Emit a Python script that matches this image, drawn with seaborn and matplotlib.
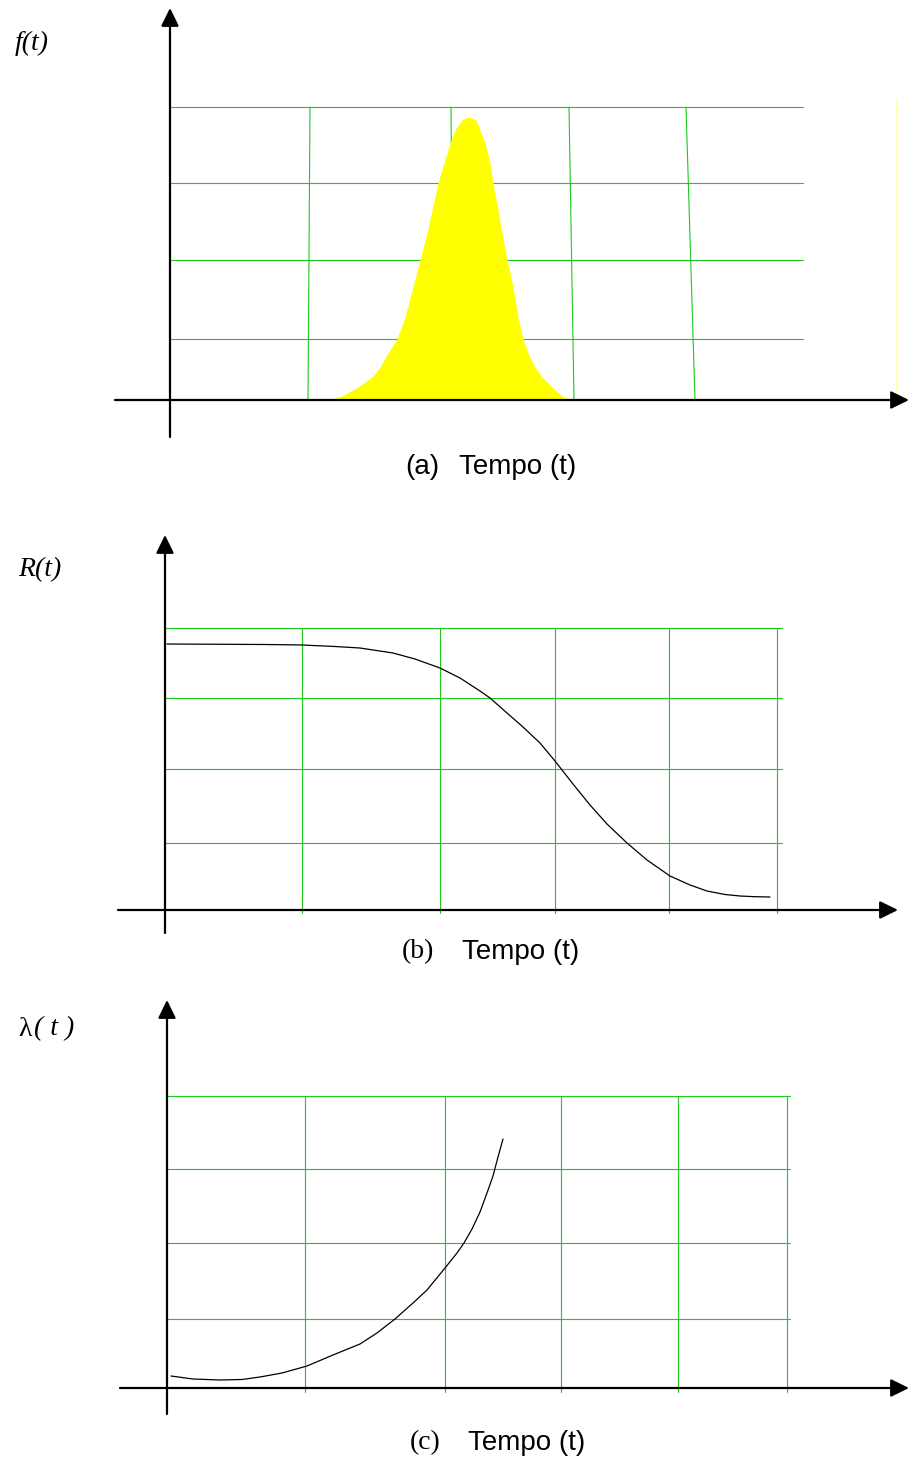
import matplotlib
matplotlib.use("Agg")
import matplotlib.pyplot as plt
import seaborn as sns

sns.set_style("white")
plt.rcParams["text.color"] = "black"

# ---- data (t in time units, values in curve units) ----
# (a) probability density f(t)
t_f = [1.55, 1.70, 1.88, 2.02, 2.10, 2.18, 2.27, 2.35, 2.43, 2.50, 2.57, 2.62,
       2.68, 2.74, 2.80, 2.85, 2.92, 2.95, 2.98, 3.02, 3.06, 3.10, 3.15, 3.20,
       3.23, 3.28, 3.32, 3.37, 3.43, 3.48, 3.53, 3.58, 3.65, 3.72, 3.82, 3.93,
       4.05]
f_vals = [0.00, 0.03, 0.13, 0.23, 0.33, 0.47, 0.61, 0.83, 1.13, 1.40, 1.67, 1.90,
          2.17, 2.37, 2.57, 2.70, 2.80, 2.82, 2.83, 2.82, 2.80, 2.70, 2.57, 2.37,
          2.17, 1.90, 1.67, 1.40, 1.13, 0.83, 0.61, 0.47, 0.33, 0.23, 0.13, 0.03,
          0.00]

# (b) reliability R(t)
t_r = [0.02, 1.00, 1.37, 1.70, 1.95, 2.28, 2.50, 2.75, 2.95, 3.15, 3.25, 3.42,
       3.58, 3.75, 3.90, 4.08, 4.25, 4.42, 4.62, 4.82, 5.05, 5.25, 5.42, 5.60,
       5.75, 5.90, 6.05]
r_vals = [2.66, 2.655, 2.65, 2.635, 2.62, 2.57, 2.51, 2.42, 2.32, 2.19, 2.12, 1.97,
          1.83, 1.67, 1.49, 1.26, 1.05, 0.86, 0.67, 0.50, 0.34, 0.25, 0.19, 0.155,
          0.14, 0.133, 0.13]

# (c) hazard rate lambda(t)
t_h = [0.04, 0.26, 0.53, 0.75, 0.93, 1.15, 1.40, 1.66, 1.93, 2.10, 2.28, 2.46,
       2.60, 2.78, 2.90, 2.97, 3.05, 3.13, 3.20, 3.26, 3.31, 3.36]
h_vals = [0.12, 0.09, 0.08, 0.085, 0.11, 0.15, 0.22, 0.33, 0.44, 0.55, 0.69, 0.85,
          0.98, 1.20, 1.35, 1.45, 1.59, 1.76, 1.95, 2.12, 2.31, 2.49]

# grid positions per panel
grid_h_a = [2.93, 2.17, 1.40, 0.61]
grid_v_a_top = [1.40, 2.81, 3.99, 5.16]
grid_v_a_bot = [1.38, 2.83, 4.04, 5.25]
grid_h_b = [2.82, 2.12, 1.41, 0.67]
grid_v_b = [1.37, 2.75, 3.90, 5.04, 6.12]
grid_h_c = [2.92, 2.19, 1.45, 0.69]
grid_v_c = [1.38, 2.78, 3.94, 5.11, 6.20]

GREEN = "#1ec81e"
W, H = 909, 1464
fig = plt.figure(figsize=(W / 100, H / 100), dpi=100)


def make_axes(ox, oy, top_px, bot_px):
    """Axes covering the full width; data origin at pixel (ox, oy), 100 px per unit."""
    ax = fig.add_axes([0, 1 - bot_px / H, 1, (bot_px - top_px) / H])
    ax.set_xlim(-ox / 100, (W - ox) / 100)
    ax.set_ylim((oy - bot_px) / 100, (oy - top_px) / 100)
    ax.axis("off")
    return ax


def draw_axes_arrows(ax, x0, x1, y0, y1):
    style = "-|>,head_length=0.55,head_width=0.27"
    kw = dict(arrowstyle=style, mutation_scale=20, lw=1.6, color="black",
              shrinkA=0, shrinkB=0)
    ax.annotate("", xy=(x1, 0), xytext=(x0, 0), arrowprops=kw)
    ax.annotate("", xy=(0, y1), xytext=(0, y0), arrowprops=kw)


label_kw = dict(fontsize=20, family="Liberation Sans", va="center", color="black")
serif_kw = dict(fontsize=20, family="Liberation Serif", va="center", color="black")

# ---------------- (a) ----------------
ax = make_axes(170, 400, 0, 450)
for y in grid_h_a:
    ax.plot([0, 6.33], [y, y], color=GREEN, lw=0.8)
for xt, xb in zip(grid_v_a_top, grid_v_a_bot):
    ax.plot([xb, xt], [0, grid_h_a[0]], color=GREEN, lw=0.8)
ax.plot([7.26, 7.26], [0, 3.0], color="#ffffa8", lw=0.8)
ax.fill_between(t_f, f_vals, 0, color="#ffff00", lw=0, zorder=3)
draw_axes_arrows(ax, -0.55, 7.39, -0.37, 3.92)
ax.text(-1.55, 3.57, "f(t)", style="italic", ha="left", **serif_kw)
fig.text(405 / W, 1 - 467 / H, "(a)", ha="left", **label_kw)
fig.text(459 / W, 1 - 467 / H, "Tempo (t)", ha="left", **label_kw)

# ---------------- (b) ----------------
ax = make_axes(165, 910, 520, 940)
for y in grid_h_b:
    ax.plot([0, 6.17], [y, y], color=GREEN, lw=0.8)
for x in grid_v_b:
    ax.plot([x, x], [-0.03, grid_h_b[0]], color=GREEN, lw=0.8)
sns.lineplot(x=t_r, y=r_vals, ax=ax, color="black", lw=0.9, sort=False, zorder=4)
draw_axes_arrows(ax, -0.47, 7.33, -0.23, 3.75)
ax.text(-1.47, 3.40, "R(t)", style="italic", ha="left", **serif_kw)
fig.text(402 / W, 1 - 952 / H, "(b)", ha="left", **serif_kw)
fig.text(462 / W, 1 - 952 / H, "Tempo (t)", ha="left", **label_kw)

# ---------------- (c) ----------------
ax = make_axes(167, 1388, 990, 1420)
for y in grid_h_c:
    ax.plot([0, 6.23], [y, y], color=GREEN, lw=0.8)
for x in grid_v_c:
    ax.plot([x, x], [-0.04, grid_h_c[0]], color=GREEN, lw=0.8)
sns.lineplot(x=t_h, y=h_vals, ax=ax, color="black", lw=0.9, sort=False, zorder=4)
draw_axes_arrows(ax, -0.47, 7.42, -0.26, 3.88)
fig.text(18 / W, 1 - 1029 / H, "\u03bb", ha="left", **serif_kw)
fig.text(34 / W, 1 - 1029 / H, "( t )", style="italic", ha="left", **serif_kw)
fig.text(410 / W, 1 - 1443 / H, "(c)", ha="left", **serif_kw)
fig.text(468 / W, 1 - 1443 / H, "Tempo (t)", ha="left", **label_kw)

fig.savefig("out.png", dpi=100, facecolor="white")
